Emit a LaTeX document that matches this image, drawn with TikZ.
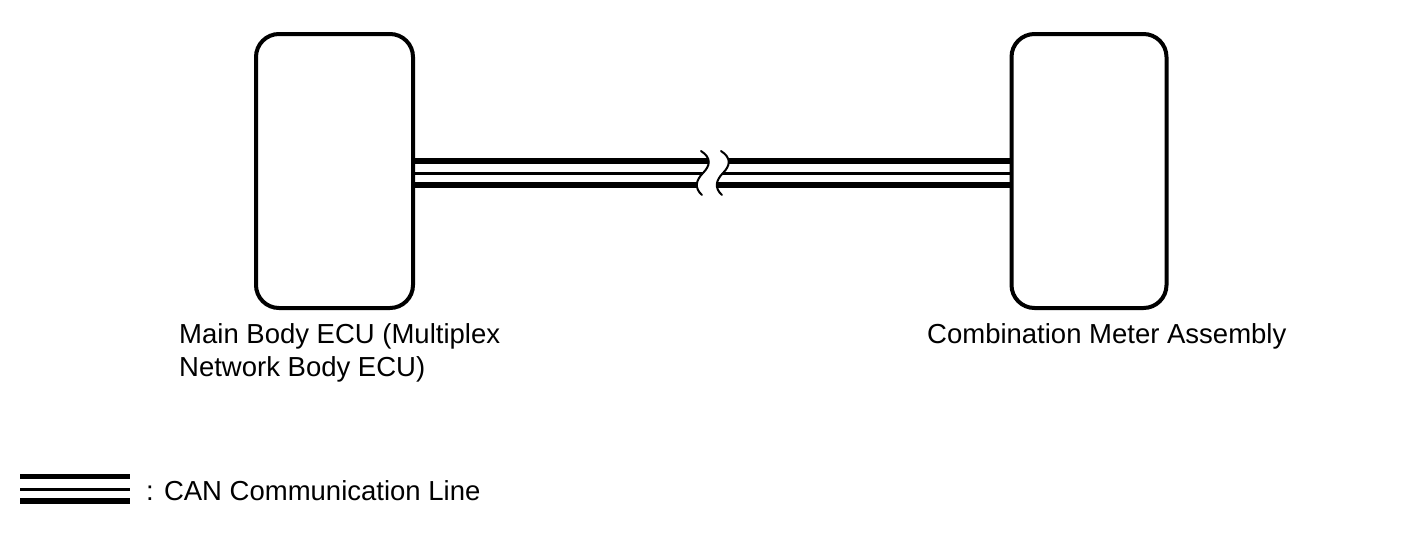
\documentclass[tikz,border=0pt]{standalone}
\usepackage{fontspec}
\setmainfont{Liberation Sans}
\begin{document}
\begin{tikzpicture}[x=1pt,y=-1pt,
  ecu/.style={draw=black, line width=4pt, rounded corners=23pt, fill=white, inner sep=0pt},
  lbl/.style={font=\fontsize{27.5}{33}\selectfont, inner sep=0pt, align=left},
  thickline/.style={line width=6pt},
  thinline/.style={line width=3pt},
  brk/.style={line width=2pt, line cap=round}]
\useasboundingbox (0,0) rectangle (1424,558);
% boxes
\node[ecu, minimum width=157pt, minimum height=274pt] (body) at (334.5,171) {};
\node[ecu, minimum width=155pt, minimum height=274pt] (meter) at (1089,171) {};
% line levels
\coordinate (yT) at (0,161);
\coordinate (yM) at (0,173);
\coordinate (yB) at (0,185);
% CAN line
\draw[thickline] (body.east |- yT) -- (meter.west |- yT);
\draw[thinline]  (body.east |- yM) -- (meter.west |- yM);
\draw[thickline] (body.east |- yB) -- (meter.west |- yB);
% break
\coordinate (b1s) at (701,151);
\coordinate (b1e) at (702,195);
\coordinate (b2s) at (721,151);
\coordinate (b2e) at (722,195);
\fill[white] (b1s) .. controls (712,158) and (710,166) .. (703,173)
  .. controls (696,180) and (694,188) .. (b1e)
  -- (b2e) .. controls (714,188) and (716,180) .. (723,173)
  .. controls (730,166) and (732,158) .. (b2s) -- cycle;
\draw[brk] (b1s) .. controls (712,158) and (710,166) .. (703,173)
  .. controls (696,180) and (694,188) .. (b1e);
\draw[brk] (b2s) .. controls (732,158) and (730,166) .. (723,173)
  .. controls (716,180) and (714,188) .. (b2e);
% labels
\node[lbl, anchor=base west] (bodylbl) at (179,376) {Main Body ECU (Multiplex\\Network Body ECU)};
\node[lbl, anchor=base west] (meterlbl) at (927,343) {Combination Meter Assembly};
% legend
\coordinate (legL) at (20,0);
\coordinate (legR) at (130,0);
\coordinate (lT) at (0,476.5);
\coordinate (lM) at (0,489);
\coordinate (lB) at (0,501);
\draw[line width=5.5pt] (legL |- lT) -- (legR |- lT);
\draw[thinline] (legL |- lM) -- (legR |- lM);
\draw[thickline] (legL |- lB) -- (legR |- lB);
\node[lbl, anchor=base west] (leglbl) at (146,500) {: CAN Communication Line};
\end{tikzpicture}
\end{document}
